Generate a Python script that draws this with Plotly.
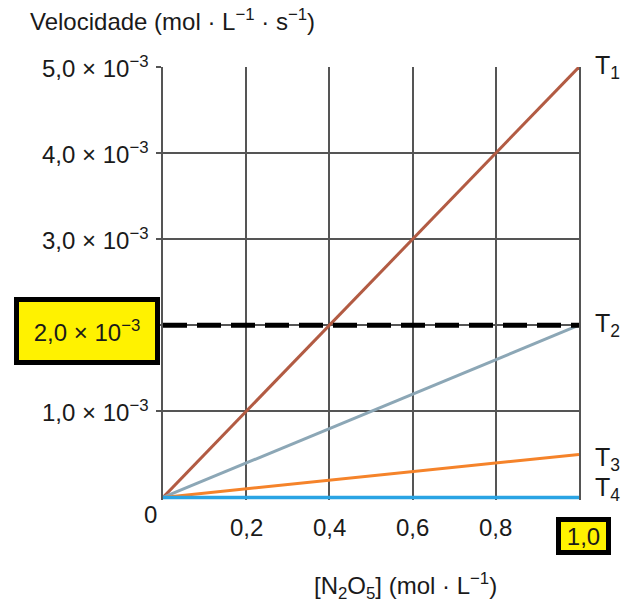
import plotly.graph_objects as go

# Concentration of N2O5 (mol/L) and reaction rate at each temperature
conc = [0.0, 1.0]
rate_T1 = [0.0, 5.0e-3]
rate_T2 = [0.0, 2.0e-3]
rate_T3 = [0.0, 0.5e-3]
rate_T4 = [0.0, 0.0]

series_names = ["T<sub>1</sub>", "T<sub>2</sub>", "T<sub>3</sub>", "T<sub>4</sub>"]
series_colors = ["#B25B43", "#8CA7B6", "#F5832A", "#2AA4E4"]

# Highlighted reference rate (dashed line)
ref_rate = 2.0e-3

x_ticks = [0.2, 0.4, 0.6, 0.8]
x_tick_text = ["0,2", "0,4", "0,6", "0,8"]
x_hl_tick = 1.0
x_hl_text = "1,0"

y_ticks = [1.0e-3, 3.0e-3, 4.0e-3, 5.0e-3]
y_tick_text = ["1,0 × 10<sup>−3</sup>", "3,0 × 10<sup>−3</sup>",
               "4,0 × 10<sup>−3</sup>", "5,0 × 10<sup>−3</sup>"]
y_hl_text = "2,0 × 10<sup>−3</sup>"

FONT = "Liberation Sans, Arial, sans-serif"
TXT = "#1a1a1a"
FS = 24

fig = go.Figure()

for name, ys, col in zip(series_names, [rate_T1, rate_T2, rate_T3, rate_T4], series_colors):
    fig.add_trace(go.Scatter(x=conc, y=ys, mode="lines", name=name,
                             line=dict(color=col, width=3 if col != "#2AA4E4" else 3.5),
                             showlegend=False, hoverinfo="skip"))

fig.add_trace(go.Scatter(x=conc, y=[ref_rate, ref_rate], mode="lines",
                         line=dict(color="black", width=5, dash="24px,10px"),
                         showlegend=False, hoverinfo="skip"))

annotations = []
# y tick labels
for v, t in zip(y_ticks, y_tick_text):
    annotations.append(dict(x=-0.03, xref="paper", y=v, yref="y", text=t,
                            xanchor="right", yanchor="middle", showarrow=False,
                            font=dict(size=FS, color=TXT, family=FONT)))
# highlighted y label
annotations.append(dict(x=-0.007, xref="paper", y=ref_rate, yref="y", text=y_hl_text,
                        xanchor="right", yanchor="middle", yshift=-6, showarrow=False,
                        width=136, height=58, borderpad=0, borderwidth=5,
                        bordercolor="black", bgcolor="#FFF200",
                        font=dict(size=FS, color=TXT, family=FONT)))
# x tick labels
for v, t in zip(x_ticks, x_tick_text):
    annotations.append(dict(x=v, xref="x", y=0, yref="y", text=t,
                            xanchor="center", yanchor="middle", yshift=-30,
                            showarrow=False, font=dict(size=FS, color=TXT, family=FONT)))
annotations.append(dict(x=x_hl_tick, xref="x", y=0, yref="y", text=x_hl_text,
                        xanchor="center", yanchor="middle", xshift=4, yshift=-39,
                        showarrow=False, width=45, height=28, borderpad=0, borderwidth=5,
                        bordercolor="black", bgcolor="#FFF200",
                        font=dict(size=FS, color=TXT, family=FONT)))
# origin label
annotations.append(dict(x=0, xref="x", y=0, yref="y", text="0",
                        xanchor="center", yanchor="middle", xshift=-13, yshift=-17,
                        showarrow=False, font=dict(size=FS, color=TXT, family=FONT)))
# series labels at the right end
label_y = [5.0e-3, 2.0e-3, 0.45e-3, 0.1e-3]
for name, ly in zip(series_names, label_y):
    annotations.append(dict(x=1.0, xref="x", y=ly, yref="y", text=name,
                            xanchor="left", yanchor="middle", xshift=14,
                            showarrow=False, font=dict(size=25, color=TXT, family=FONT)))
# axis titles
annotations.append(dict(x=-0.325, xref="paper", y=1.0, yref="paper",
                        text="Velocidade (mol · L<sup>−1</sup> · s<sup>−1</sup>)",
                        xanchor="left", yanchor="middle", yshift=47, showarrow=False,
                        font=dict(size=FS, color=TXT, family=FONT)))
annotations.append(dict(x=0.582, xref="paper", y=0, yref="paper",
                        text="[N<sub>2</sub>O<sub>5</sub>] (mol · L<sup>−1</sup>)",
                        xanchor="center", yanchor="middle", yshift=-86, showarrow=False,
                        font=dict(size=FS, color=TXT, family=FONT)))

grid_col = "#555555"
fig.update_layout(
    width=622, height=610,
    margin=dict(l=163, r=43, t=67, b=110),
    paper_bgcolor="white", plot_bgcolor="white",
    annotations=annotations,
    xaxis=dict(range=[0, 1.0], tickvals=x_ticks + [1.0], showticklabels=False,
               showgrid=True, gridcolor=grid_col, gridwidth=1.5,
               showline=False, zeroline=False, ticks=""),
    yaxis=dict(range=[-0.03e-3, 5.0e-3], tickvals=[1e-3, 2e-3, 3e-3, 4e-3, 5e-3],
               showticklabels=False, showgrid=True, gridcolor=grid_col, gridwidth=1.5,
               showline=True, mirror=True, linecolor=grid_col, linewidth=1.5,
               zeroline=False, ticks="outside", ticklen=5, tickcolor=grid_col, tickwidth=1.5),
)

fig.write_html("out.html")
